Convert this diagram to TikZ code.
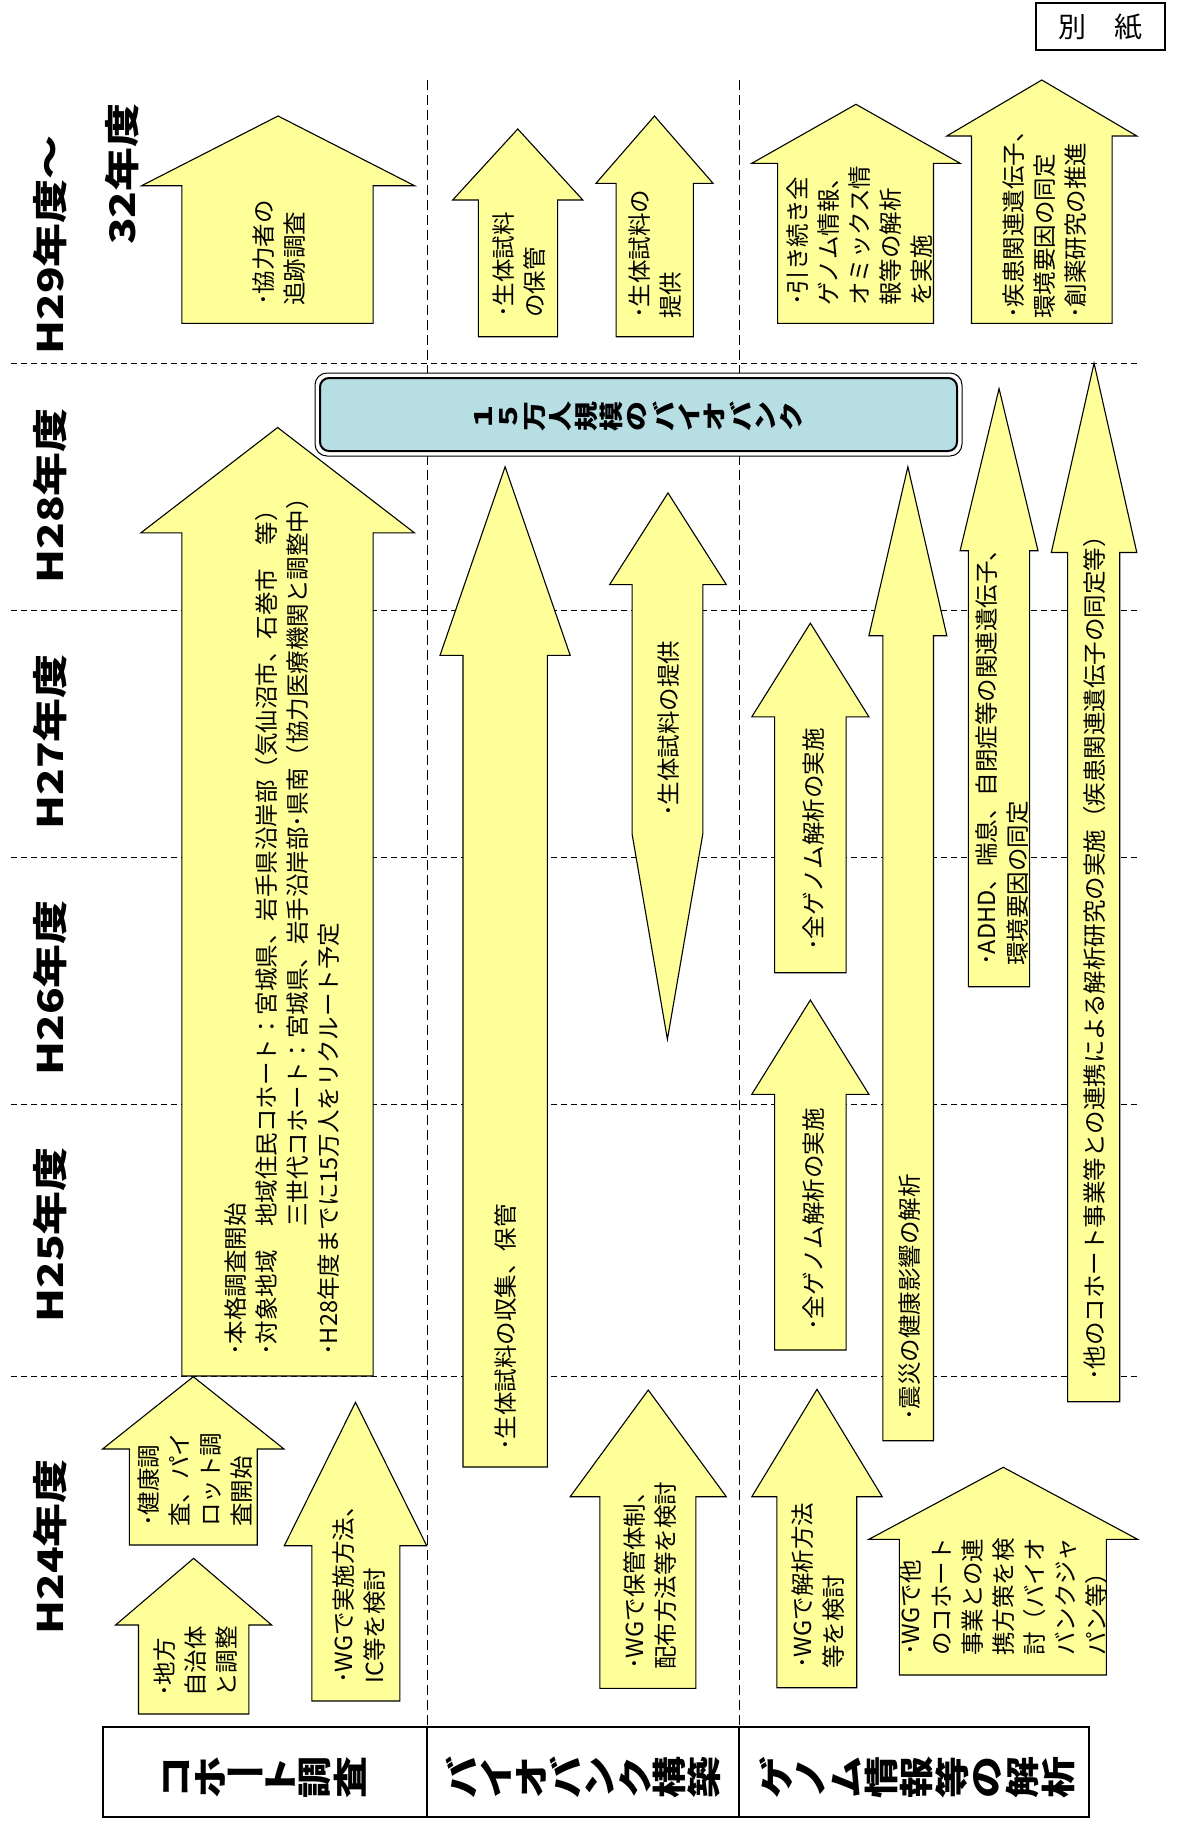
\documentclass[tikz,border=0pt]{standalone}
\usepackage{fontspec}
\setmainfont{Noto Sans CJK JP}
\usepackage{tikz}
\usetikzlibrary{calc}
\definecolor{planyellow}{RGB}{255,255,153}
\definecolor{bankblue}{RGB}{183,222,227}

% up arrow: body left, body right, bottom, head left, head right, head base, tip
\newcommand{\planarrow}[7]{%
  \draw[arrowbox] (#1,#3) -- (#1,#6) -- (#4,#6) -- ({(#4+#5)/2},#7)
    -- (#5,#6) -- (#2,#6) -- (#2,#3) -- cycle;}

\begin{document}
\begin{tikzpicture}[x=1pt,y=-1pt,
    arrowbox/.style={draw=black,line width=1.1pt,fill=planyellow,line join=miter},
    rowgrid/.style={black,line width=1pt,dash pattern=on 6pt off 4pt},
    colgrid/.style={black,line width=1pt,dash pattern=on 10pt off 5pt},
    txt/.style={rotate=90,anchor=west,align=left,inner sep=0pt,font=\fontsize{23.5}{31}\selectfont},
    yearlbl/.style={rotate=90,yscale=0.8,inner sep=0pt,font=\bfseries\fontsize{44}{90}\selectfont},
    hdchar/.style={inner sep=0pt,font=\bfseries\fontsize{42}{42}\selectfont},
    bankchar/.style={rotate=90,yscale=0.8,inner sep=0pt,font=\bfseries\fontsize{30}{30}\selectfont}]
    \useasboundingbox (0,0) rectangle (1176,1821);

    % grid lines
    \foreach \y in {363,610,857,1104,1376}
        \draw[rowgrid] (11,\y) -- (1137,\y);
    \foreach \x in {427,739}
        \draw[colgrid] (\x,80) -- (\x,1727);

    % year labels
    \node[yearlbl,anchor=west,align=left] (yr29) at (86,355) {H29年度～\\\hspace*{2.5em}32年度};
    \node[yearlbl] (yr28) at (50,496) {H28年度};
    \node[yearlbl] (yr27) at (50,742) {H27年度};
    \node[yearlbl] (yr26) at (50,988) {H26年度};
    \node[yearlbl] (yr25) at (50,1235) {H25年度};
    \node[yearlbl] (yr24) at (50,1547) {H24年度};

    % cohort column
    \planarrow{138.5}{248.8}{1714}{115.6}{271.7}{1625}{1558.3}
    \planarrow{129.4}{257.2}{1545}{102.6}{284}{1449}{1376.7}
    \planarrow{311.9}{399.9}{1701}{284.3}{426.7}{1545.7}{1402.3}
    \planarrow{181.8}{373.1}{1376}{140.8}{414.5}{532.9}{427.5}
    \planarrow{181.8}{373.1}{323.3}{141.6}{414.5}{185.7}{116}
    \node[txt] (local) at (195.8,1697) {･地方\\自治体\\と調整};
    \node[txt] (pilot) at (195,1527) {･健康調\\査、パイ\\ロット調\\査開始};
    \node[txt] (wgcohort) at (359.5,1684) {･WGで実施方法、\\IC等を検討};
    \node[txt] (fullsurvey) at (282,1356) {･本格調査開始\\･対象地域　地域住民コホート：宮城県、岩手県沿岸部（気仙沼市、石巻市　等）\\\hspace*{5.5em}三世代コホート：宮城県、岩手沿岸部･県南（協力医療機関と調整中）\\･H28年度までに15万人をリクルート予定};
    \node[txt] (followup) at (279.4,306) {･協力者の\\追跡調査};

    % biobank column
    \planarrow{463}{547.3}{1467}{440}{570.2}{655.4}{466.8}
    \planarrow{599.8}{695.9}{1688.3}{570.2}{726.3}{1496.7}{1390}
    \draw[arrowbox] (632.1,834) -- (632.1,584.6) -- (609.6,584.6) -- (668,492.9)
        -- (726.3,584.6) -- (702.8,584.6) -- (702.8,834) -- (667.4,1039.3) -- cycle;
    \planarrow{478.4}{557.6}{336.7}{452.7}{582.8}{200}{129}
    \planarrow{616.1}{693.3}{336.7}{596}{713}{183.3}{116}
    \node[txt] (collect) at (506,1451) {･生体試料の収集、保管};
    \node[txt] (wgbank) at (650,1670) {･WGで保管体制、\\配布方法等を検討};
    \node[txt] (supply) at (669,817) {･生体試料の提供};
    \node[txt] (keep) at (519.5,318) {･生体試料\\の保管};
    \node[txt] (supply29) at (655,319) {･生体試料の\\提供};

    % genome column
    \planarrow{776.9}{856.7}{1687.7}{751.8}{882.2}{1496.7}{1389.3}
    \planarrow{899.3}{1106.4}{1675}{868.9}{1137.6}{1539.3}{1467.3}
    \planarrow{774.6}{846.1}{1350}{751.8}{868.9}{1094.3}{1000}
    \planarrow{774.6}{846.1}{972.7}{751.8}{868.9}{716.8}{623.2}
    \planarrow{882.9}{933.5}{1440.7}{868.9}{946.8}{635.7}{466.8}
    \planarrow{968.4}{1029.6}{986.7}{960.1}{1038}{550.7}{388.6}
    \planarrow{1067.6}{1119.7}{1401.7}{1051.3}{1136.8}{552.5}{363.2}
    \planarrow{777.6}{933.5}{323.3}{751.8}{960.1}{163.3}{104.3}
    \planarrow{971.5}{1112.1}{323.3}{946.8}{1136.8}{136}{80}
    \node[txt] (wggenome) at (818.5,1669) {･WGで解析方法\\等を検討};
    \node[txt] (wgother) at (1004,1656) {･WGで他\\のコホート\\事業との連\\携方策を検\\討（バイオ\\バンクジャ\\パン等）};
    \node[txt] (genome25) at (813.7,1331) {･全ゲノム解析の実施};
    \node[txt] (genome26) at (813.7,951) {･全ゲノム解析の実施};
    \node[txt] (disaster) at (910,1421) {･震災の健康影響の解析};
    \node[txt] (adhd) at (1002,966) {･ADHD、喘息、自閉症等の関連遺伝子、\\環境要因の同定};
    \node[txt] (joint) at (1095,1381) {･他のコホート事業等との連携による解析研究の実施（疾患関連遺伝子の同定等）};
    \node[txt] (omics) at (860,306) {･引き続き全\\ゲノム情報、\\オミックス情\\報等の解析\\を実施};
    \node[txt] (drug) at (1045,319) {･疾患関連遺伝子、\\環境要因の同定\\･創薬研究の推進};

    % 150k biobank box
    \draw[line width=1pt,fill=white,rounded corners=12pt] (315,373) rectangle (962,456);
    \draw[line width=2pt,fill=bankblue,rounded corners=9pt] (320,378) rectangle (957,451);
    \foreach \ch [count=\i] in {１,５,万,人,規,模,の,バ,イ,オ,バ,ン,ク}
        \node[bankchar] (bank\i) at ({637.5+(\i-7)*25.7},416) {\ch};

    % category table
    \draw[line width=1.3pt] (103,1727) rectangle (1089,1817);
    \draw[line width=1.3pt] (427,1727) -- (427,1817);
    \draw[line width=1.3pt] (739,1727) -- (739,1817);
    \foreach \ch/\rot [count=\i] in {コ/90,ホ/90,ー/0,ト/90,調/90,査/90}
        \node[hdchar,rotate=\rot,yscale=0.82] (cohorthd\i) at ({263+(\i-3.5)*34.7},1777) {\ch};
    \foreach \ch/\rot [count=\i] in {バ/90,イ/90,オ/90,バ/90,ン/90,ク/90,構/90,築/90}
        \node[hdchar,rotate=\rot,yscale=0.82] (bankhd\i) at ({583+(\i-4.5)*34.7},1777) {\ch};
    \foreach \ch/\rot [count=\i] in {ゲ/90,ノ/90,ム/90,情/90,報/90,等/90,の/90,解/90,析/90}
        \node[hdchar,rotate=\rot,yscale=0.82] (genomehd\i) at ({917+(\i-5)*35.3},1777) {\ch};

    % attachment tag
    \draw[line width=1.2pt] (1036,3) rectangle (1165,50);
    \node[font=\fontsize{28}{28}\selectfont,inner sep=0pt] (attach) at (1100.5,27) {別　紙};
\end{tikzpicture}
\end{document}
